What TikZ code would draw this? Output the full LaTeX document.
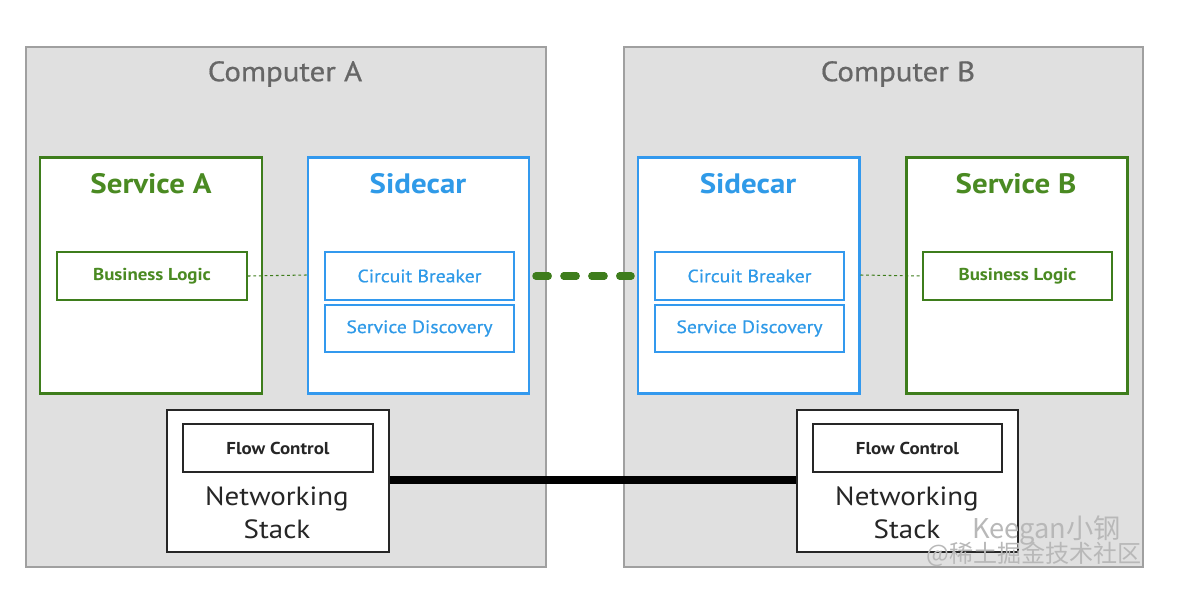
\documentclass[tikz,border=0pt]{standalone}
\usepackage{fontspec}
\setmainfont{PT Sans}[FakeStretch=1.1]
\newfontfamily\mediumfont{PT Sans}[FakeStretch=1.1, FakeBold=0.6]
\newfontfamily\cjk{Noto Sans CJK SC}
\usetikzlibrary{fit}
\definecolor{pcgray}{HTML}{E0E0E0}
\definecolor{pcborder}{HTML}{A0A0A0}
\definecolor{titlegray}{HTML}{666666}
\definecolor{svcgreen}{HTML}{3E7D1C}
\definecolor{txtgreen}{HTML}{4A8A22}
\definecolor{carblue}{HTML}{3399EE}
\definecolor{txtblue}{HTML}{2F9AE8}
\definecolor{wmgray}{HTML}{B8B8B8}
\tikzset{
  computer/.style={draw=pcborder, fill=pcgray, line width=0.85pt, inner sep=0pt},
  pctitle/.style={text=titlegray, font=\mediumfont\fontsize{16}{19}\selectfont, inner sep=0pt},
  service/.style={draw=svcgreen, fill=white, line width=1.7pt, inner sep=0pt},
  sidecar/.style={draw=carblue, fill=white, line width=1.7pt, inner sep=0pt},
  svctitle/.style={text=txtgreen, font=\bfseries\fontsize{16}{19}\selectfont, inner sep=0pt},
  cartitle/.style={text=txtblue, font=\bfseries\fontsize{16}{19}\selectfont, inner sep=0pt},
  logicbox/.style={draw=svcgreen, line width=0.85pt, inner sep=0pt, text=txtgreen, font=\bfseries\fontsize{9.8}{11}\selectfont},
  carbox/.style={draw=carblue, line width=0.85pt, inner sep=0pt, text=txtblue, font=\mediumfont\fontsize{10.2}{12}\selectfont},
  netbox/.style={draw=black!85, fill=white, line width=1.1pt, inner sep=0pt},
  flowbox/.style={draw=black!85, line width=0.85pt, inner sep=0pt, text=black!85, font=\bfseries\fontsize{9.8}{11}\selectfont},
  nettitle/.style={text=black!85, font=\fontsize{15}{18.5}\selectfont, align=center, inner sep=0pt},
  thinlink/.style={draw=svcgreen, line width=0.6pt, dash pattern=on 1.6pt off 1.6pt},
  meshlink/.style={draw=svcgreen, line width=4pt, line cap=round, dash pattern=on 7.2pt off 8.7pt},
  netlink/.style={draw=black, line width=4pt},
  watermark/.style={text=wmgray, inner sep=0pt, anchor=west}
}
\begin{document}
\begin{tikzpicture}[x=0.02cm, y=-0.02cm]
\useasboundingbox (0,0) rectangle (1201,603);
\fill[white] (0,0) rectangle (1201,603);

% computers
\node[computer, fit={(26,47) (546,567)}] (pcA) {};
\node[computer, fit={(624,47) (1143,567)}] (pcB) {};
\node[pctitle] (pcAt) at (285,74) {Computer A};
\node[pctitle] (pcBt) at (898,74) {Computer B};

% services and sidecars
\node[service, fit={(40,157) (262,393)}] (svcA) {};
\node[sidecar, fit={(308,157) (529,393)}] (carA) {};
\node[sidecar, fit={(638,157) (859,393)}] (carB) {};
\node[service, fit={(906,157) (1127,393)}] (svcB) {};

\node[svctitle] (svcAt) at (151,184) {Service A};
\node[cartitle] (carAt) at (418,184) {Sidecar};
\node[cartitle] (carBt) at (748,184) {Sidecar};
\node[svctitle] (svcBt) at (1016,184) {Service B};

\node[logicbox, fit={(57,252) (247,300)}] (logA) {};
\node[logicbox, draw=none] (logAt) at (logA.center) {Business Logic};
\node[logicbox, fit={(923,252) (1112,300)}] (logB) {};
\node[logicbox, draw=none] (logBt) at (logB.center) {Business Logic};

\node[carbox, fit={(325,252) (514,300)}] (cbA) {};
\node[carbox, draw=none] (cbAt) at (cbA.center) {Circuit Breaker};
\node[carbox, fit={(325,305) (514,352)}] (sdA) {};
\node[carbox, draw=none] (sdAt) at (sdA.center) {Service Discovery};
\node[carbox, fit={(655,252) (844,300)}] (cbB) {};
\node[carbox, draw=none] (cbBt) at (cbB.center) {Circuit Breaker};
\node[carbox, fit={(655,305) (844,352)}] (sdB) {};
\node[carbox, draw=none] (sdBt) at (sdB.center) {Service Discovery};

% networking stacks
\node[netbox, fit={(167,410) (389,552)}] (nsA) {};
\node[flowbox, fit={(183,424) (373,472)}] (fcA) {};
\node[flowbox, draw=none] (fcAt) at (fcA.center) {Flow Control};
\node[nettitle] (nsAt) at (277,513) {Networking\\Stack};
\node[netbox, fit={(797,410) (1018,552)}] (nsB) {};
\node[flowbox, fit={(813,424) (1002,472)}] (fcB) {};
\node[flowbox, draw=none] (fcBt) at (fcB.center) {Flow Control};
\node[nettitle] (nsBt) at (907,513) {Networking\\Stack};

% connectors
\coordinate (netrow) at (0,480);
\draw[thinlink] (logA.east) -- (carA.west);
\draw[thinlink] (carB.east) -- (logB.west);
\draw[meshlink] ([xshift=3pt]carA.east |- cbA.east) -- ([xshift=-3pt]carB.west |- cbB.west);
\draw[netlink] (nsA.east |- netrow) -- (nsB.west |- netrow);

% watermark
\node[watermark, font=\cjk\fontsize{15.5}{17}\selectfont] (wm1) at (972,530) {Keegan小钢};
\node[watermark, font=\cjk\fontsize{13.7}{15}\selectfont] (wm2) at (926,554) {@稀土掘金技术社区};
\end{tikzpicture}
\end{document}
